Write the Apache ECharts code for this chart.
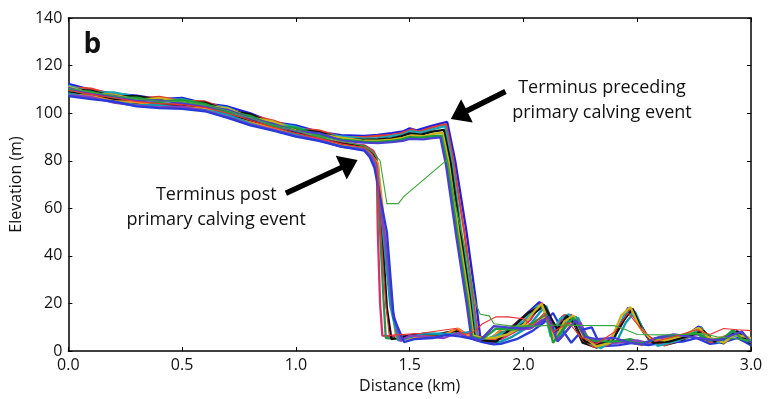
<!DOCTYPE html>
<html>
<head>
<meta charset="utf-8">
<script src="https://cdn.jsdelivr.net/npm/echarts@6/dist/echarts.min.js"></script>
<style>
  html, body { margin: 0; padding: 0; background: #fff; }
  #main { width: 775px; height: 399px; }
</style>
</head>
<body>
<div id="main"></div>
<script>
// distances (km) of the shared upstream part of every profile
const upKm = [0, 0.1, 0.2, 0.3, 0.4, 0.5, 0.6, 0.7, 0.8, 0.9, 1.0, 1.1, 1.2];

// profiles before the primary calving event (upstream elevations, m)
const preUp = [
  [112.3, 109.8, 108.2, 107.4, 105.9, 106.4, 104.1, 102.8, 99.9, 96.2, 94.9, 92.1, 90.8],
  [110.9, 110.3, 107.6, 106.2, 106.8, 105.2, 104.9, 101.6, 99.2, 96.9, 93.6, 92.8, 89.9],
  [111.6, 108.7, 108.7, 106.8, 105.2, 105.9, 103.6, 102.3, 98.4, 95.8, 94.3, 91.4, 90.2],
  [110.2, 109.4, 107.1, 107.2, 105.6, 104.6, 104.4, 101.1, 99.6, 95.1, 93.2, 92.0, 89.3],
  [111.2, 108.2, 107.8, 105.7, 106.3, 104.9, 103.2, 102.0, 98.1, 96.5, 92.8, 91.1, 89.7],
  [109.7, 109.0, 106.6, 106.5, 104.8, 105.6, 103.9, 100.6, 98.9, 94.7, 93.9, 90.7, 88.9],
  [110.6, 108.0, 107.3, 105.3, 105.4, 104.2, 102.9, 101.4, 97.8, 95.5, 92.4, 91.6, 88.5]
];
// terminus region of the same profiles [km, m]
const preFront = [
  [[1.3,90.4],[1.36,90.9],[1.42,91.6],[1.47,92.3],[1.5,93.6],[1.53,92.8],[1.6,94.8],[1.665,96.3],[1.70,80],[1.75,50],[1.79,22],[1.81,6],[1.84,5.5]],
  [[1.3,89.9],[1.36,90.4],[1.42,90.9],[1.46,91.5],[1.51,93.1],[1.54,92.2],[1.6,94.0],[1.66,95.4],[1.69,81],[1.74,50],[1.78,21],[1.80,6],[1.84,5]],
  [[1.3,89.3],[1.36,89.5],[1.42,90.4],[1.47,91.0],[1.5,92.4],[1.55,91.8],[1.6,93.2],[1.655,94.6],[1.685,80],[1.73,48],[1.775,20],[1.795,5.5],[1.83,5.0]],
  [[1.3,88.8],[1.36,89.0],[1.42,89.4],[1.46,90.2],[1.5,91.5],[1.55,91.0],[1.6,92.2],[1.65,93.0],[1.68,79],[1.725,48],[1.765,22],[1.785,6],[1.82,4.5]],
  [[1.3,88.4],[1.36,88.5],[1.42,88.9],[1.47,89.6],[1.51,90.7],[1.56,90.3],[1.6,91.2],[1.645,91.8],[1.67,80],[1.715,50],[1.76,22],[1.78,6.5],[1.82,5.5]],
  [[1.3,88.0],[1.36,87.9],[1.42,88.3],[1.46,88.9],[1.5,89.9],[1.55,89.7],[1.6,90.3],[1.64,90.6],[1.665,79],[1.71,49],[1.755,21],[1.775,6],[1.82,5]],
  [[1.3,87.6],[1.36,87.4],[1.42,87.8],[1.47,88.4],[1.5,89.2],[1.56,89.0],[1.6,89.5],[1.635,89.8],[1.66,78],[1.705,48],[1.75,20],[1.77,6],[1.81,4.5]]
];
// fjord / melange surface beyond the terminus [km, m]
const preTail = [
  [[1.87,4.5],[1.93,8.5],[2.0,14.5],[2.07,20.6],[2.1,17.5],[2.14,8],[2.17,14],[2.21,14.5],[2.25,7],[2.3,2.5],[2.36,2.2],[2.41,8],[2.46,18.2],[2.5,12.5],[2.55,5],[2.61,3.0],[2.7,5.5],[2.77,10.4],[2.81,4.5],[2.87,4.2],[2.92,8.6],[2.96,6.5],[3.0,4.2]],
  [[1.88,5],[1.94,9.5],[2.01,15],[2.08,20],[2.11,16],[2.14,10],[2.18,15.2],[2.22,13],[2.26,5],[2.31,1.8],[2.37,2.5],[2.42,10],[2.47,17.5],[2.51,11],[2.56,4],[2.62,2.5],[2.72,6],[2.78,9.5],[2.82,3.8],[2.88,5],[2.93,8],[2.97,5],[3.0,3.5]],
  [[1.87,6],[1.92,8],[2.0,12.5],[2.06,19],[2.09,18],[2.12,6],[2.16,13.5],[2.2,15.5],[2.24,9],[2.29,3.5],[2.34,1.2],[2.4,5.5],[2.45,16.5],[2.49,15],[2.53,7.5],[2.59,2.2],[2.68,4.5],[2.76,8.5],[2.8,5.5],[2.86,3.5],[2.91,7.5],[2.95,7],[3.0,5]],
  [[1.88,4],[1.95,10],[2.02,16],[2.09,19.5],[2.12,14],[2.15,9],[2.19,14.8],[2.23,11],[2.27,4],[2.33,2.8],[2.39,4.5],[2.44,13],[2.48,17.8],[2.52,9],[2.57,3.5],[2.64,4],[2.73,6.5],[2.79,8.5],[2.84,4],[2.9,6],[2.94,8.2],[2.98,4.5],[3.0,3.2]],
  [[1.87,5.5],[1.93,7],[2.0,11],[2.05,17],[2.08,19.8],[2.11,12],[2.14,5],[2.18,12.5],[2.22,15],[2.26,6.5],[2.32,2],[2.38,3.5],[2.43,15],[2.47,18.5],[2.51,10],[2.56,5],[2.62,4.5],[2.7,6.5],[2.77,9.8],[2.81,6],[2.88,3.5],[2.93,7],[3.0,5.5]],
  [[1.88,9.5],[1.95,9],[2.02,10.5],[2.1,15.5],[2.13,3.5],[2.18,10],[2.22,14],[2.26,8],[2.3,4.5],[2.38,4],[2.45,4.5],[2.5,3],[2.55,4],[2.6,6],[2.7,6.8],[2.76,7.5],[2.82,4.5],[2.88,5.5],[2.92,8.8],[2.96,5],[3.0,3.8]],
  [[1.87,10.5],[1.93,10],[2.0,9.5],[2.06,11],[2.11,14.5],[2.15,4],[2.19,8.5],[2.23,13],[2.27,6],[2.32,5],[2.4,5.5],[2.47,3.5],[2.52,2.8],[2.58,5.5],[2.66,7],[2.74,6],[2.8,5],[2.86,4.5],[2.91,6.5],[2.96,8.2],[3.0,3.5]]
];

// profiles after the primary calving event
const postUp = [
  [109.4, 107.6, 106.2, 105.1, 103.6, 104.0, 102.6, 99.7, 97.4, 93.9, 92.1, 89.4, 87.6],
  [108.6, 108.1, 105.6, 104.4, 104.3, 103.1, 102.2, 100.3, 96.6, 94.4, 91.3, 90.0, 86.8],
  [109.0, 106.9, 106.0, 103.8, 103.1, 103.6, 101.5, 99.1, 97.0, 93.3, 91.7, 88.9, 87.2],
  [107.9, 107.3, 105.1, 104.6, 102.7, 102.5, 102.0, 98.6, 96.1, 93.7, 90.8, 89.2, 86.4],
  [108.3, 106.4, 104.7, 103.5, 103.4, 102.1, 101.3, 99.4, 95.6, 92.9, 91.0, 88.6, 86.0],
  [107.5, 106.8, 104.4, 103.2, 102.4, 102.8, 101.1, 98.3, 95.2, 93.1, 90.4, 88.9, 85.8],
  [107.2, 105.9, 104.9, 102.9, 102.1, 101.8, 100.8, 98.0, 94.9, 92.7, 90.1, 88.4, 85.9]
];
const postFront = [
  [[1.3,86.5],[1.34,84.2],[1.355,81.5],[1.36,50],[1.37,20],[1.38,6.5],[1.45,6.0],[1.52,6.8],[1.6,6.2],[1.68,7.8],[1.72,9.0],[1.76,6.5],[1.82,5.0]],
  [[1.3,86.1],[1.335,83.6],[1.355,80.0],[1.37,50],[1.385,22],[1.395,5.5],[1.44,5.2],[1.51,6.2],[1.6,5.8],[1.69,8.3],[1.73,7.6],[1.78,5.5],[1.83,4.2]],
  [[1.3,85.8],[1.335,83.0],[1.36,78.5],[1.38,48],[1.4,18],[1.42,5.0],[1.46,5.8],[1.53,7.0],[1.62,6.9],[1.70,8.6],[1.74,7.0],[1.79,4.8],[1.84,3.9]],
  [[1.3,85.4],[1.33,82.6],[1.36,79.0],[1.39,52],[1.415,24],[1.44,6.0],[1.47,4.8],[1.55,6.2],[1.63,6.0],[1.71,9.5],[1.75,6.8],[1.8,5.8],[1.85,4.5]],
  [[1.3,85.0],[1.33,82.2],[1.355,78.2],[1.385,48],[1.415,19],[1.45,4.5],[1.49,5.5],[1.56,7.4],[1.64,7.3],[1.70,7.0],[1.76,8.0],[1.81,5.0],[1.85,3.5]],
  [[1.3,84.7],[1.33,81.8],[1.35,77.6],[1.395,45],[1.425,17],[1.46,4.2],[1.5,6.5],[1.58,6.0],[1.65,5.5],[1.71,7.6],[1.75,6.0],[1.8,4.5],[1.86,3.0]],
  [[1.3,84.3],[1.325,81.5],[1.345,77.0],[1.40,50],[1.43,14],[1.475,3.8],[1.52,5.0],[1.6,5.5],[1.66,6.8],[1.72,6.2],[1.77,5.2],[1.82,3.8],[1.87,2.8]]
];
const postTail = [
  [[1.9,5],[1.96,8],[2.03,13],[2.08,20.2],[2.11,15],[2.14,7],[2.17,14.5],[2.21,15.2],[2.25,6],[2.3,3],[2.35,2.5],[2.4,7],[2.46,17],[2.5,13.5],[2.54,6.5],[2.6,3.5],[2.69,5],[2.77,9.5],[2.82,4.5],[2.88,4],[2.92,8],[2.96,7],[3.0,3.8]],
  [[1.9,8],[1.96,8.5],[2.04,10],[2.1,14],[2.14,5.5],[2.19,11.5],[2.23,14.5],[2.27,5.5],[2.33,3.5],[2.4,4],[2.47,5],[2.53,3.2],[2.6,5],[2.68,6.2],[2.76,8],[2.81,3.5],[2.87,5],[2.92,7.5],[2.97,6],[3.0,4.5]],
  [[1.9,6],[1.97,9.5],[2.04,15.5],[2.09,19],[2.12,13],[2.15,8],[2.19,13.5],[2.22,12],[2.26,3.5],[2.32,1.5],[2.38,3],[2.43,11],[2.47,18],[2.51,12],[2.56,3.5],[2.62,2.5],[2.7,4.5],[2.78,9.8],[2.82,5],[2.88,3.2],[2.93,7.8],[2.97,5.5],[3.0,3]],
  [[1.9,9],[1.97,10.5],[2.05,11],[2.11,15],[2.14,4.5],[2.18,9.5],[2.22,13.5],[2.26,7],[2.31,4],[2.39,3.5],[2.46,4],[2.52,2.5],[2.58,4],[2.66,6.5],[2.74,6],[2.8,4.5],[2.86,5.5],[2.91,7],[2.96,6],[3.0,2.8]],
  [[1.9,4],[1.95,6],[2.02,10],[2.07,16],[2.1,19],[2.13,11],[2.16,6],[2.2,13],[2.24,14],[2.28,5],[2.34,2],[2.41,4],[2.45,12],[2.49,16.5],[2.53,8],[2.58,3],[2.65,5],[2.72,5.5],[2.78,10.2],[2.83,3.5],[2.9,5],[2.95,7.5],[3.0,4]],
  [[1.9,7],[1.96,9],[2.03,9.5],[2.08,13],[2.12,12],[2.16,5],[2.21,11],[2.25,12],[2.29,4],[2.36,3],[2.44,3.8],[2.5,4.5],[2.56,3],[2.62,6],[2.7,6.5],[2.77,7],[2.83,4],[2.89,6],[2.94,8.5],[2.98,4],[3.0,3.5]],
  [[1.9,3],[1.97,5],[2.04,8.5],[2.09,12],[2.13,16],[2.17,9],[2.21,3.5],[2.26,9],[2.3,10],[2.34,2],[2.42,2.5],[2.48,3.5],[2.55,2.5],[2.61,3.5],[2.7,4],[2.76,5.5],[2.82,3],[2.88,3.8],[2.94,5.5],[2.98,3.5],[3.0,2.5]]
];

// two odd profiles that stand out from the bundle
const greenUp = [110.5, 108.8, 107.3, 105.9, 105.1, 104.8, 103.4, 101.0, 98.0, 95.1, 92.6, 90.4, 88.2];
const greenRest = [[1.3,86.2],[1.34,83.5],[1.37,80],[1.4,62],[1.45,62],[1.475,65],[1.665,80.5],[1.70,62],[1.75,40],[1.79,20],[1.81,15.5],[1.85,14.8],[1.87,11.5],[1.95,10.5],[2.05,10.5],[2.15,11],[2.25,10.8],[2.4,10.7],[2.45,9],[2.5,7],[2.6,6.8],[2.7,7],[2.78,7.5],[2.85,6],[2.95,5],[3.0,4.5]];
const redUp = [109.6, 107.9, 106.4, 104.9, 104.0, 103.6, 102.4, 100.0, 97.0, 94.1, 91.6, 89.4, 87.1];
const redRest = [[1.3,85.6],[1.335,83],[1.355,79],[1.375,48],[1.395,20],[1.41,6.6],[1.55,7.5],[1.7,9.5],[1.74,7],[1.78,8],[1.82,11.5],[1.88,14.4],[1.93,14.4],[2.0,13.6],[2.04,10.5],[2.09,16],[2.13,8],[2.2,12],[2.25,6],[2.32,3],[2.4,8],[2.46,16],[2.52,9],[2.58,4],[2.66,6],[2.76,9],[2.82,7],[2.88,9.5],[2.94,9],[3.0,8.6]];

const preColors = ['#1f1fe0', '#e33b2e', '#19a7b8', '#111111', '#c9b41a', '#1b9e3a', '#4b3fd0'];
const postColors = ['#d62f6c', '#2f8f4f', '#111111', '#f08a24', '#0f9bb0', '#8a3fc0', '#2a3ad8'];

const xTicks = { min: 0, max: 3, interval: 0.5 };
const yTicks = { min: 0, max: 140, interval: 20 };

// annotation anchors in data coordinates
const arrowPre = [[1.921, 109.1], [1.681, 97.6]];
const arrowPost = [[0.956, 66.3], [1.271, 80.3]];
const labelPre = { at: [2.345, 105.2], text: 'Terminus preceding\nprimary calving event' };
const labelPost = { at: [0.65, 60.6], text: 'Terminus post\nprimary calving event' };
const panelLetter = { at: [0.105, 128.5], text: 'b' };

const FONT = '"Open Sans", "Noto Sans", sans-serif';

function profile(up, rest, color, width) {
  const pts = upKm.map((x, j) => [x, up[j]]).concat(rest);
  return {
    type: 'line',
    data: pts,
    symbol: 'none',
    silent: true,
    lineStyle: { color: color, width: width },
    emphasis: { disabled: true }
  };
}

const series = [];
postUp.forEach((up, i) => series.push(profile(up, postFront[i].concat(postTail[i]), postColors[i], 2.3)));
preUp.forEach((up, i) => series.push(profile(up, preFront[i].concat(preTail[i]), preColors[i], 2.3)));
series.push(profile(redUp, redRest, '#f03030', 1.1));
series.push(profile(greenUp, greenRest, '#3aa53a', 1.1));

const chart = echarts.init(document.getElementById('main'), null, { renderer: 'canvas' });

const tick = { show: true, inside: true, length: 4, lineStyle: { color: '#000', width: 1 } };
const frame = { show: true, onZero: false, lineStyle: { color: '#000', width: 1.5 } };

chart.setOption({
  animation: false,
  backgroundColor: '#fff',
  grid: { left: 64, right: 24, top: 18, bottom: 41 },
  xAxis: [
    {
      type: 'value', min: xTicks.min, max: xTicks.max, interval: xTicks.interval,
      name: 'Distance (km)', nameLocation: 'middle', nameGap: 24,
      nameTextStyle: { fontFamily: FONT, fontSize: 16, color: '#111' },
      axisLine: frame, axisTick: tick, splitLine: { show: false },
      axisLabel: { fontFamily: FONT, fontSize: 16, color: '#111', margin: 6, formatter: v => v.toFixed(1) }
    },
    {
      type: 'value', position: 'top', min: xTicks.min, max: xTicks.max, interval: xTicks.interval,
      axisLine: frame, axisTick: tick, axisLabel: { show: false }, splitLine: { show: false }
    }
  ],
  yAxis: [
    {
      type: 'value', min: yTicks.min, max: yTicks.max, interval: yTicks.interval,
      name: 'Elevation (m)', nameLocation: 'middle', nameGap: 36,
      nameTextStyle: { fontFamily: FONT, fontSize: 16, color: '#111' },
      axisLine: frame, axisTick: tick, splitLine: { show: false },
      axisLabel: { fontFamily: FONT, fontSize: 16, color: '#111', margin: 6 }
    },
    {
      type: 'value', position: 'right', min: yTicks.min, max: yTicks.max, interval: yTicks.interval,
      axisLine: frame, axisTick: tick, axisLabel: { show: false }, splitLine: { show: false }
    }
  ],
  series: series
});

// arrows and labels placed through the chart's own coordinate system
function arrowShape(pair) {
  const a = chart.convertToPixel({ gridIndex: 0 }, pair[0]);
  const b = chart.convertToPixel({ gridIndex: 0 }, pair[1]);
  const dx = b[0] - a[0], dy = b[1] - a[1];
  const len = Math.sqrt(dx * dx + dy * dy);
  const ux = dx / len, uy = dy / len;
  const nx = -uy, ny = ux;
  const headLen = 18, headW = 26, shaftW = 5.5;
  const bx = b[0] - ux * headLen, by = b[1] - uy * headLen;
  const p = (x, y, w) => [x + nx * w / 2, y + ny * w / 2];
  return {
    type: 'polygon',
    silent: true,
    shape: {
      points: [
        p(a[0], a[1], shaftW), p(bx, by, shaftW), p(bx, by, headW), b,
        p(bx, by, -headW), p(bx, by, -shaftW), p(a[0], a[1], -shaftW)
      ]
    },
    style: { fill: '#000' },
    z: 100
  };
}

function textAt(item, size, weight) {
  const pt = chart.convertToPixel({ gridIndex: 0 }, item.at);
  return {
    type: 'text',
    silent: true,
    x: pt[0], y: pt[1],
    style: {
      text: item.text, fill: '#111', fontFamily: FONT, fontSize: size,
      fontWeight: weight, align: 'center', verticalAlign: 'middle', lineHeight: 25
    },
    z: 100
  };
}

chart.setOption({
  graphic: [
    arrowShape(arrowPre),
    arrowShape(arrowPost),
    textAt(labelPre, 18, 'normal'),
    textAt(labelPost, 18, 'normal'),
    textAt(panelLetter, 28, 'bold')
  ]
});
</script>
</body>
</html>
